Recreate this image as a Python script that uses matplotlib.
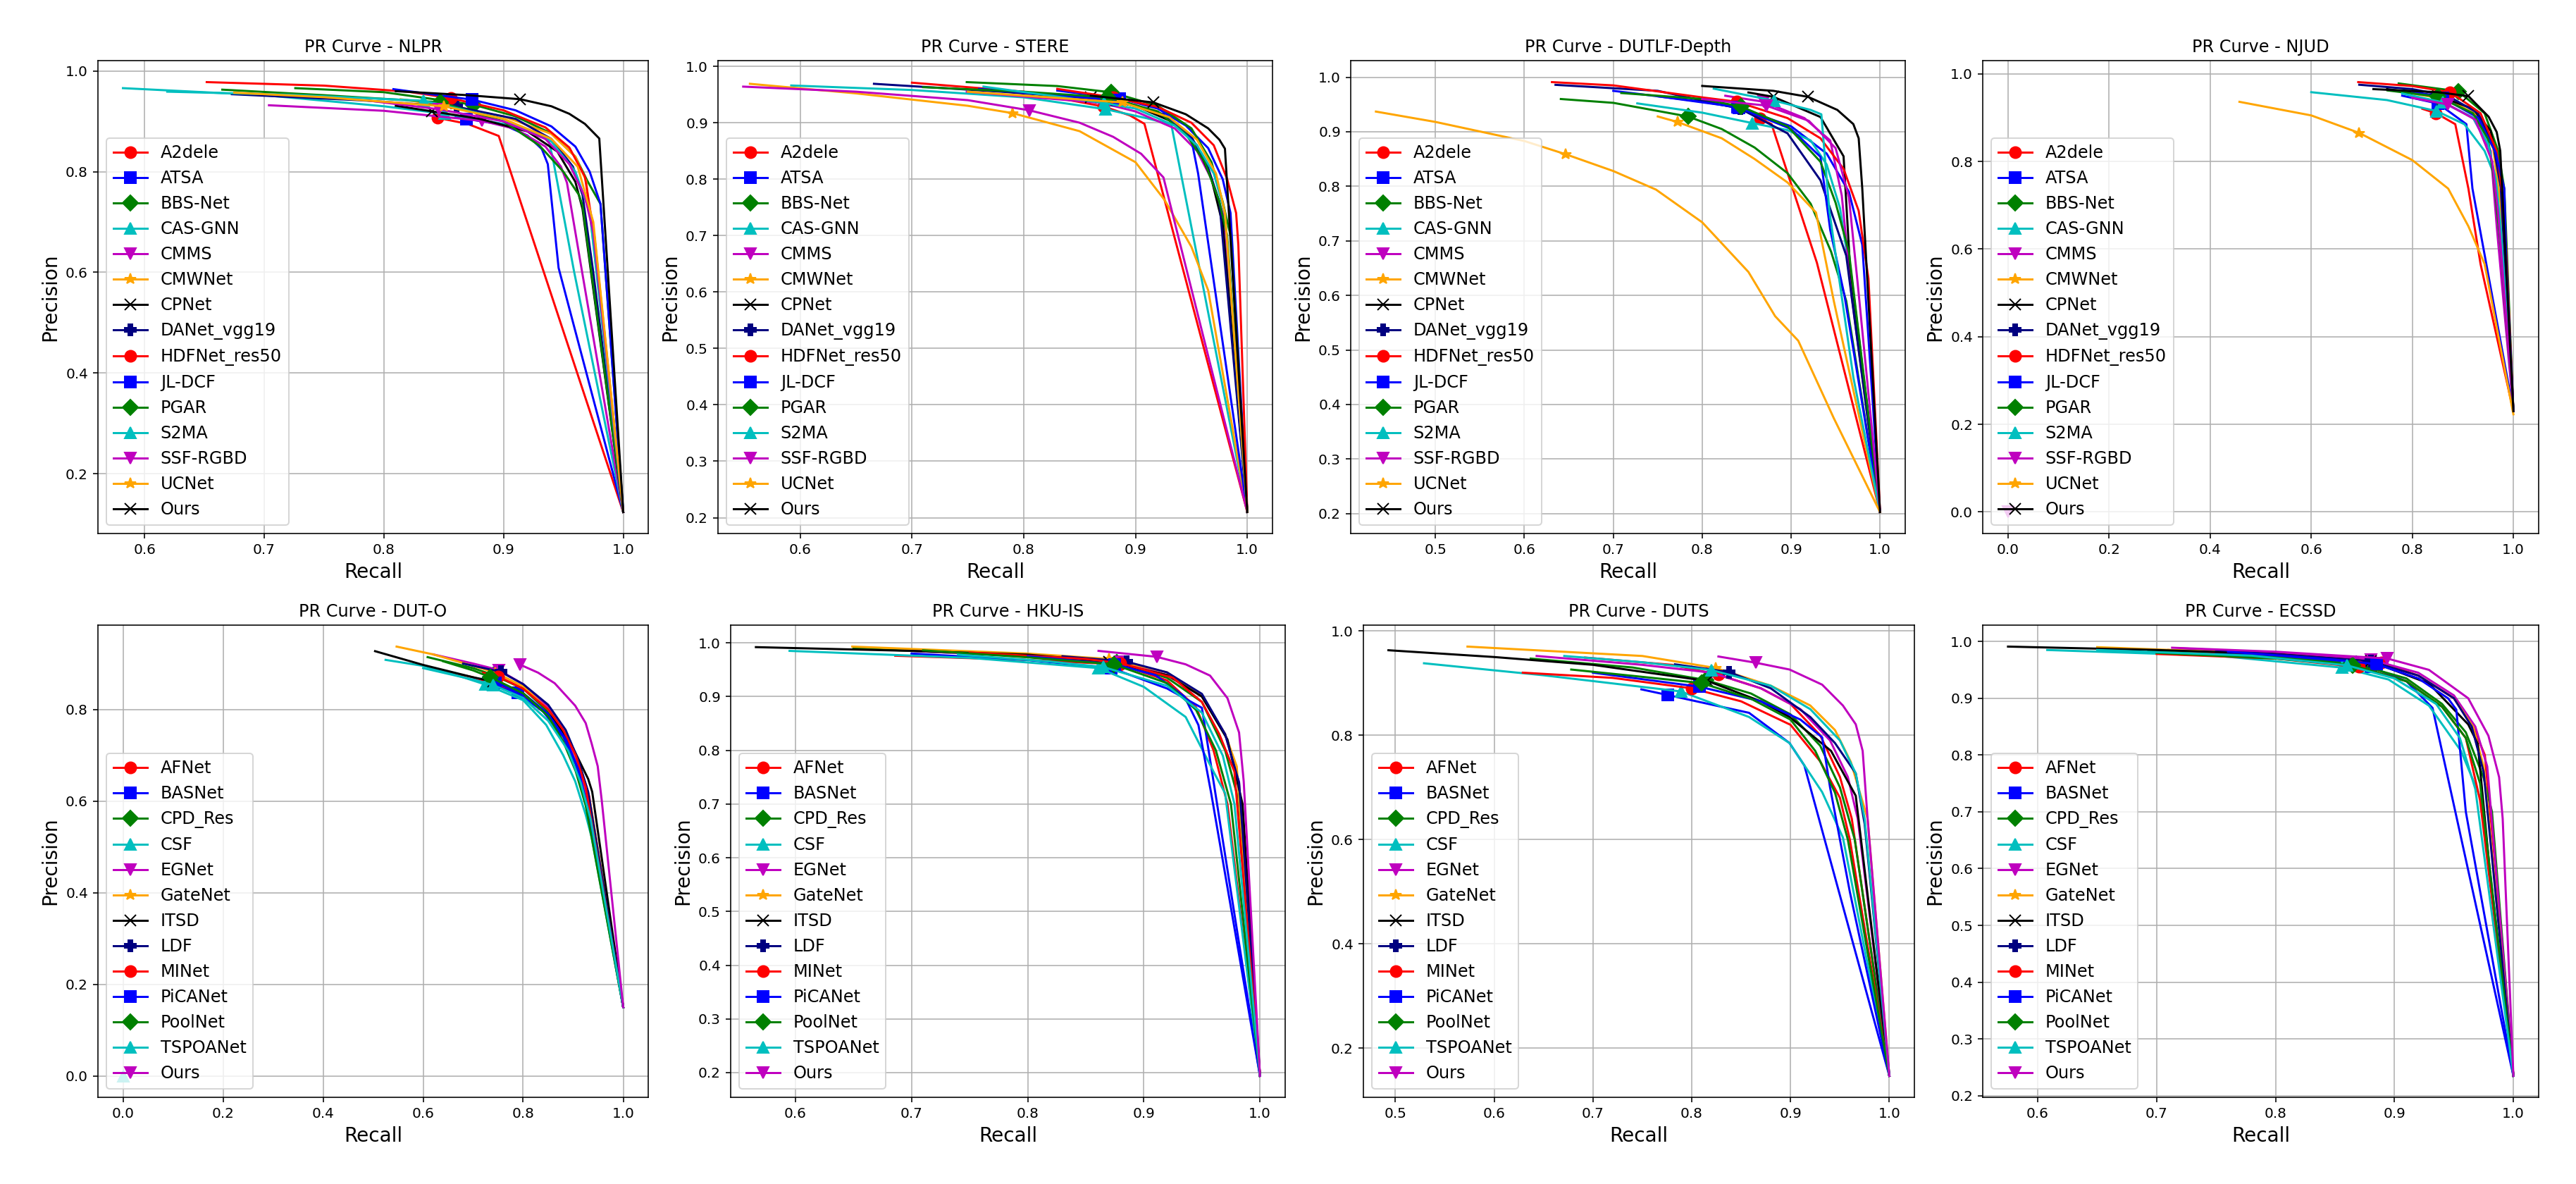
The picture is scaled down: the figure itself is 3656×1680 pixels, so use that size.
import matplotlib
matplotlib.use("Agg")
import matplotlib.pyplot as plt

# method names, in legend order
rgbd_methods = ["A2dele", "ATSA", "BBS-Net", "CAS-GNN", "CMMS", "CMWNet", "CPNet",
                "DANet_vgg19", "HDFNet_res50", "JL-DCF", "PGAR", "S2MA", "SSF-RGBD",
                "UCNet", "Ours"]
rgb_methods = ["AFNet", "BASNet", "CPD_Res", "CSF", "EGNet", "GateNet", "ITSD", "LDF",
               "MINet", "PiCANet", "PoolNet", "TSPOANet", "Ours"]

rgbd_styles = [("r", "o"), ("b", "s"), ("g", "D"), ("c", "^"), ("m", "v"), ("orange", "*"),
               ("k", "x"), ("navy", "P"), ("r", "o"), ("b", "s"), ("g", "D"), ("c", "^"),
               ("m", "v"), ("orange", "*"), ("k", "x")]
rgb_styles = [("r", "o"), ("b", "s"), ("g", "D"), ("c", "^"), ("m", "v"), ("orange", "*"),
              ("k", "x"), ("navy", "P"), ("r", "o"), ("b", "s"), ("g", "D"), ("c", "^"),
              ("m", "v")]

# each curve: (recall, precision, index of the marked point)
nlpr = {
    "A2dele": ([0.845, 0.87, 0.896, 1.0], [0.907, 0.895, 0.871, 0.124], 0),
    "ATSA": ([0.86, 0.869, 0.9, 0.92, 0.932, 0.937, 0.946, 1.0],
             [0.908, 0.905, 0.893, 0.872, 0.845, 0.815, 0.609, 0.124], 1),
    "BBS-Net": ([0.726, 0.8, 0.875, 0.91, 0.94, 0.96, 0.97, 0.981, 1.0],
                [0.966, 0.958, 0.933, 0.91, 0.876, 0.83, 0.782, 0.736, 0.124], 2),
    "CAS-GNN": ([0.582, 0.7, 0.8, 0.851, 0.9, 0.925, 0.937, 0.941, 0.959, 1.0],
                [0.966, 0.952, 0.93, 0.915, 0.895, 0.878, 0.868, 0.829, 0.601, 0.124], 3),
    "CMMS": ([0.704, 0.8, 0.882, 0.91, 0.935, 0.948, 0.953, 0.966, 1.0],
             [0.932, 0.921, 0.901, 0.885, 0.85, 0.81, 0.778, 0.596, 0.124], 2),
    "CMWNet": ([0.814, 0.846, 0.9, 0.94, 0.96, 0.969, 0.978, 1.0],
               [0.944, 0.933, 0.91, 0.875, 0.83, 0.782, 0.596, 0.124], 1),
    "CPNet": ([0.81, 0.84, 0.88, 0.92, 0.945, 0.96, 0.966, 1.0],
              [0.931, 0.92, 0.905, 0.88, 0.84, 0.78, 0.726, 0.124], 1),
    "DANet_vgg19": ([0.673, 0.78, 0.861, 0.91, 0.94, 0.958, 0.966, 0.975, 1.0],
                    [0.954, 0.942, 0.929, 0.905, 0.865, 0.81, 0.754, 0.6, 0.124], 2),
    "HDFNet_res50": ([0.652, 0.75, 0.82, 0.856, 0.9, 0.935, 0.955, 0.968, 0.976, 1.0],
                     [0.978, 0.971, 0.959, 0.946, 0.922, 0.888, 0.848, 0.79, 0.67, 0.124], 3),
    "JL-DCF": ([0.808, 0.874, 0.91, 0.94, 0.96, 0.972, 0.981, 1.0],
               [0.964, 0.943, 0.922, 0.89, 0.85, 0.8, 0.736, 0.124], 1),
    "PGAR": ([0.665, 0.75, 0.847, 0.9, 0.93, 0.95, 0.963, 0.966, 1.0],
             [0.963, 0.952, 0.938, 0.9, 0.852, 0.8, 0.754, 0.733, 0.124], 2),
    "S2MA": ([0.619, 0.72, 0.833, 0.9, 0.94, 0.96, 0.972, 1.0],
             [0.959, 0.953, 0.941, 0.905, 0.86, 0.8, 0.72, 0.124], 2),
    "SSF-RGBD": ([0.788, 0.846, 0.9, 0.935, 0.955, 0.968, 0.975, 1.0],
                 [0.941, 0.924, 0.9, 0.865, 0.815, 0.75, 0.68, 0.124], 1),
    "UCNet": ([0.675, 0.75, 0.85, 0.9, 0.94, 0.962, 0.975, 1.0],
              [0.957, 0.948, 0.93, 0.905, 0.865, 0.81, 0.7, 0.124], 2),
    "Ours": ([0.81, 0.87, 0.914, 0.94, 0.955, 0.968, 0.98, 1.0],
             [0.96, 0.952, 0.944, 0.93, 0.915, 0.895, 0.866, 0.124], 2),
}

stere = {
    "A2dele": ([0.7, 0.8, 0.871, 0.895, 0.908, 1.0], [0.971, 0.955, 0.929, 0.913, 0.898, 0.21], 2),
    "ATSA": ([0.83, 0.886, 0.92, 0.945, 0.965, 0.978, 0.985, 1.0],
             [0.957, 0.943, 0.925, 0.895, 0.855, 0.8, 0.74, 0.21], 1),
    "BBS-Net": ([0.749, 0.83, 0.878, 0.92, 0.95, 0.968, 0.978, 0.985, 1.0],
                [0.972, 0.965, 0.954, 0.93, 0.89, 0.83, 0.76, 0.7, 0.21], 2),
    "CAS-GNN": ([0.592, 0.7, 0.8, 0.873, 0.91, 0.932, 1.0],
                [0.966, 0.958, 0.945, 0.924, 0.908, 0.897, 0.21], 3),
    "CMMS": ([0.749, 0.87, 0.9, 0.935, 0.955, 0.968, 0.978, 1.0],
             [0.955, 0.935, 0.92, 0.89, 0.85, 0.8, 0.74, 0.21], 1),
    "CMWNet": ([0.555, 0.65, 0.75, 0.79, 0.85, 0.9, 0.926, 0.95, 0.965, 1.0],
               [0.969, 0.952, 0.93, 0.917, 0.885, 0.83, 0.763, 0.68, 0.603, 0.21], 3),
    "CPNet": ([0.786, 0.86, 0.9, 0.935, 0.955, 0.968, 0.978, 1.0],
              [0.955, 0.945, 0.93, 0.9, 0.86, 0.8, 0.72, 0.21], 1),
    "DANet_vgg19": ([0.666, 0.78, 0.88, 0.925, 0.95, 0.965, 0.975, 1.0],
                    [0.969, 0.955, 0.94, 0.915, 0.875, 0.82, 0.76, 0.21], 2),
    "HDFNet_res50": ([0.83, 0.88, 0.92, 0.95, 0.97, 0.982, 0.99, 0.992, 1.0],
                     [0.96, 0.945, 0.928, 0.9, 0.86, 0.8, 0.74, 0.683, 0.21], 1),
    "JL-DCF": ([0.76, 0.886, 0.93, 0.95, 0.956, 1.0], [0.96, 0.94, 0.91, 0.87, 0.81, 0.21], 1),
    "PGAR": ([0.71, 0.8, 0.875, 0.92, 0.945, 0.962, 0.975, 0.982, 1.0],
             [0.963, 0.955, 0.945, 0.92, 0.88, 0.83, 0.76, 0.7, 0.21], 2),
    "S2MA": ([0.764, 0.872, 0.9, 0.935, 0.955, 0.97, 0.98, 1.0],
             [0.964, 0.935, 0.925, 0.895, 0.86, 0.81, 0.74, 0.21], 1),
    "SSF-RGBD": ([0.549, 0.65, 0.75, 0.805, 0.85, 0.88, 0.905, 0.925, 1.0],
                 [0.964, 0.955, 0.94, 0.922, 0.9, 0.875, 0.845, 0.803, 0.21], 3),
    "UCNet": ([0.75, 0.888, 0.93, 0.955, 0.972, 0.98, 1.0],
              [0.955, 0.936, 0.91, 0.87, 0.81, 0.74, 0.21], 1),
    "Ours": ([0.86, 0.916, 0.945, 0.965, 0.975, 0.98, 1.0],
             [0.948, 0.936, 0.915, 0.89, 0.87, 0.854, 0.21], 1),
}

dutlf = {
    "A2dele": ([0.865, 0.878, 0.929, 1.0], [0.924, 0.914, 0.66, 0.203], 0),
    "ATSA": ([0.7, 0.8, 0.841, 0.9, 0.94, 0.965, 0.98, 1.0],
             [0.975, 0.955, 0.944, 0.91, 0.86, 0.79, 0.693, 0.203], 2),
    "BBS-Net": ([0.641, 0.7, 0.784, 0.822, 0.859, 0.896, 0.922, 0.945, 0.962, 1.0],
                [0.96, 0.953, 0.928, 0.905, 0.871, 0.824, 0.768, 0.68, 0.59, 0.203], 2),
    "CAS-GNN": ([0.727, 0.8, 0.856, 0.896, 0.922, 0.94, 0.955, 0.97, 1.0],
                [0.952, 0.935, 0.916, 0.903, 0.884, 0.84, 0.76, 0.6, 0.203], 2),
    "CMMS": ([0.826, 0.869, 0.915, 0.944, 0.957, 0.968, 1.0],
             [0.966, 0.955, 0.925, 0.884, 0.783, 0.6, 0.203], 1),
    "CMWNet": ([0.75, 0.772, 0.822, 0.859, 0.896, 0.928, 0.948, 1.0],
               [0.928, 0.918, 0.888, 0.85, 0.807, 0.752, 0.59, 0.203], 1),
    "CPNet": ([0.852, 0.88, 0.933, 0.959, 0.966, 1.0], [0.972, 0.964, 0.927, 0.855, 0.659, 0.203], 1),
    "DANet_vgg19": ([0.635, 0.75, 0.843, 0.896, 0.933, 0.962, 1.0],
                    [0.986, 0.975, 0.942, 0.897, 0.811, 0.673, 0.203], 2),
    "HDFNet_res50": ([0.631, 0.7, 0.8, 0.839, 0.896, 0.933, 0.959, 0.976, 0.987, 1.0],
                     [0.991, 0.985, 0.963, 0.955, 0.925, 0.888, 0.832, 0.755, 0.631, 0.203], 3),
    "JL-DCF": ([0.75, 0.84, 0.9, 0.933, 0.944, 0.96, 1.0],
               [0.965, 0.945, 0.905, 0.854, 0.72, 0.6, 0.203], 1),
    "PGAR": ([0.709, 0.8, 0.844, 0.896, 0.933, 0.95, 0.965, 1.0],
             [0.971, 0.96, 0.946, 0.91, 0.845, 0.77, 0.68, 0.203], 2),
    "S2MA": ([0.813, 0.881, 0.922, 0.934, 0.943, 0.97, 1.0],
             [0.979, 0.957, 0.94, 0.932, 0.755, 0.45, 0.203], 1),
    "SSF-RGBD": ([0.8, 0.872, 0.92, 0.95, 0.965, 0.975, 1.0],
                 [0.96, 0.948, 0.92, 0.87, 0.78, 0.62, 0.203], 1),
    "UCNet": ([0.433, 0.5, 0.6, 0.646, 0.7, 0.748, 0.8, 0.852, 0.882, 0.908, 0.948, 1.0],
              [0.937, 0.918, 0.883, 0.859, 0.828, 0.794, 0.734, 0.643, 0.562, 0.517, 0.375, 0.203], 3),
    "Ours": ([0.8, 0.88, 0.919, 0.952, 0.97, 0.976, 0.98, 1.0],
             [0.984, 0.975, 0.964, 0.94, 0.914, 0.888, 0.797, 0.203], 2),
}

njud = {
    "A2dele": ([0.82, 0.847, 0.885, 0.911, 0.935, 1.0], [0.92, 0.91, 0.885, 0.738, 0.566, 0.23], 1),
    "ATSA": ([0.78, 0.851, 0.907, 0.919, 1.0], [0.95, 0.932, 0.885, 0.738, 0.23], 1),
    "BBS-Net": ([0.773, 0.891, 0.943, 0.97, 0.982, 1.0], [0.978, 0.96, 0.91, 0.824, 0.738, 0.23], 1),
    "CAS-GNN": ([0.6, 0.75, 0.848, 0.903, 0.943, 0.967, 1.0],
                [0.958, 0.94, 0.915, 0.885, 0.824, 0.755, 0.23], 2),
    "CMMS": ([0.797, 0.86, 0.92, 0.955, 0.967, 1.0], [0.949, 0.935, 0.9, 0.824, 0.652, 0.23], 1),
    "CMWNet": ([0.8, 0.871, 0.93, 0.96, 0.975, 1.0], [0.955, 0.941, 0.905, 0.83, 0.7, 0.23], 1),
    "CPNet": ([0.75, 0.85, 0.92, 0.955, 0.972, 0.98, 1.0], [0.965, 0.95, 0.92, 0.87, 0.78, 0.7, 0.23], 1),
    "DANet_vgg19": ([0.695, 0.8, 0.87, 0.93, 0.96, 0.975, 1.0],
                    [0.975, 0.965, 0.95, 0.91, 0.84, 0.74, 0.23], 2),
    "HDFNet_res50": ([0.693, 0.8, 0.875, 0.935, 0.967, 0.982, 1.0],
                     [0.981, 0.972, 0.958, 0.91, 0.824, 0.695, 0.23], 2),
    "JL-DCF": ([0.8, 0.86, 0.93, 0.965, 0.982, 0.986, 1.0], [0.96, 0.945, 0.9, 0.82, 0.738, 0.566, 0.23], 1),
    "PGAR": ([0.751, 0.85, 0.92, 0.95, 0.962, 0.975, 1.0], [0.962, 0.948, 0.91, 0.85, 0.755, 0.6, 0.23], 1),
    "S2MA": ([0.78, 0.86, 0.92, 0.95, 0.965, 0.975, 1.0], [0.955, 0.935, 0.9, 0.84, 0.76, 0.65, 0.23], 1),
    "SSF-RGBD": ([0.8, 0.87, 0.925, 0.958, 0.97, 1.0], [0.945, 0.93, 0.895, 0.8, 0.68, 0.23], 1),
    "UCNet": ([0.458, 0.6, 0.695, 0.8, 0.871, 0.911, 0.943, 1.0],
              [0.936, 0.905, 0.865, 0.803, 0.738, 0.652, 0.566, 0.223], 2),
    "Ours": ([0.723, 0.85, 0.911, 0.951, 0.967, 0.974, 1.0],
             [0.965, 0.958, 0.949, 0.902, 0.867, 0.824, 0.23], 2),
}

dut_o = {
    "AFNet": ([0.613, 0.7, 0.74, 0.8, 0.85, 0.89, 0.915, 0.932, 1.0],
              [0.89, 0.87, 0.857, 0.83, 0.79, 0.73, 0.67, 0.61, 0.15], 2),
    "BASNet": ([0.7, 0.789, 0.84, 0.88, 0.905, 0.925, 1.0], [0.865, 0.836, 0.795, 0.74, 0.68, 0.6, 0.15], 1),
    "CPD_Res": ([0.609, 0.7, 0.74, 0.8, 0.85, 0.885, 0.91, 0.93, 1.0],
                [0.914, 0.89, 0.875, 0.845, 0.795, 0.735, 0.67, 0.6, 0.15], 2),
    "CSF": ([0.525, 0.6, 0.68, 0.725, 0.8, 0.846, 0.88, 0.904, 0.925, 0.937, 1.0],
            [0.908, 0.895, 0.87, 0.854, 0.82, 0.766, 0.7, 0.643, 0.57, 0.52, 0.15], 3),
    "EGNet": ([0.62, 0.7, 0.751, 0.8, 0.85, 0.885, 0.91, 0.93, 1.0],
              [0.92, 0.9, 0.886, 0.855, 0.805, 0.745, 0.68, 0.6, 0.15], 2),
    "GateNet": ([0.547, 0.62, 0.7, 0.745, 0.8, 0.85, 0.89, 0.915, 0.935, 1.0],
                [0.937, 0.92, 0.895, 0.88, 0.85, 0.8, 0.74, 0.67, 0.59, 0.15], 3),
    "ITSD": ([0.504, 0.6, 0.7, 0.74, 0.8, 0.86, 0.9, 0.93, 0.938, 1.0],
             [0.927, 0.897, 0.87, 0.861, 0.835, 0.78, 0.715, 0.648, 0.62, 0.15], 3),
    "LDF": ([0.68, 0.755, 0.8, 0.85, 0.885, 0.91, 0.93, 1.0], [0.9, 0.882, 0.855, 0.81, 0.755, 0.69, 0.62, 0.15], 1),
    "MINet": ([0.72, 0.75, 0.8, 0.85, 0.88, 0.905, 0.925, 1.0], [0.88, 0.872, 0.845, 0.8, 0.755, 0.7, 0.63, 0.15], 1),
    "PiCANet": ([0.72, 0.745, 0.8, 0.85, 0.885, 0.91, 0.93, 1.0],
                [0.87, 0.858, 0.835, 0.79, 0.735, 0.67, 0.58, 0.15], 1),
    "PoolNet": ([0.64, 0.7, 0.735, 0.8, 0.85, 0.88, 0.905, 0.925, 1.0],
                [0.905, 0.885, 0.87, 0.835, 0.785, 0.73, 0.665, 0.59, 0.15], 2),
    "TSPOANet": ([0.6, 0.7, 0.74, 0.8, 0.85, 0.89, 0.915, 0.935, 1.0],
                 [0.89, 0.865, 0.853, 0.825, 0.775, 0.71, 0.64, 0.56, 0.15], 2),
    "Ours": ([0.793, 0.83, 0.863, 0.904, 0.925, 0.937, 0.949, 0.957, 1.0],
             [0.898, 0.88, 0.857, 0.808, 0.77, 0.725, 0.676, 0.602, 0.15], 0),
}

hku_is = {
    "AFNet": ([0.686, 0.8, 0.879, 0.92, 0.945, 0.96, 0.972, 1.0],
              [0.976, 0.968, 0.96, 0.93, 0.88, 0.8, 0.7, 0.194], 2),
    "BASNet": ([0.7, 0.8, 0.872, 0.92, 0.95, 1.0], [0.98, 0.968, 0.953, 0.915, 0.879, 0.194], 2),
    "CPD_Res": ([0.65, 0.8, 0.877, 0.92, 0.95, 0.97, 0.98, 1.0],
                [0.99, 0.975, 0.963, 0.935, 0.89, 0.8, 0.72, 0.194], 2),
    "CSF": ([0.595, 0.75, 0.861, 0.9, 0.936, 0.961, 0.97, 1.0],
            [0.985, 0.972, 0.953, 0.918, 0.862, 0.756, 0.72, 0.194], 2),
    "EGNet": ([0.7, 0.8, 0.88, 0.92, 0.95, 0.97, 0.982, 1.0],
              [0.985, 0.975, 0.965, 0.94, 0.9, 0.83, 0.74, 0.194], 2),
    "GateNet": ([0.649, 0.8, 0.87, 0.92, 0.95, 0.97, 0.98, 1.0],
                [0.993, 0.98, 0.97, 0.945, 0.9, 0.83, 0.77, 0.194], 2),
    "ITSD": ([0.566, 0.7, 0.8, 0.87, 0.92, 0.95, 0.972, 0.985, 1.0],
             [0.992, 0.985, 0.978, 0.965, 0.94, 0.9, 0.82, 0.7, 0.194], 3),
    "LDF": ([0.83, 0.885, 0.92, 0.95, 0.97, 0.982, 1.0], [0.975, 0.965, 0.945, 0.905, 0.83, 0.74, 0.194], 1),
    "MINet": ([0.75, 0.85, 0.88, 0.925, 0.95, 0.965, 0.978, 1.0],
              [0.982, 0.97, 0.962, 0.935, 0.89, 0.83, 0.76, 0.194], 2),
    "PiCANet": ([0.8, 0.875, 0.91, 0.935, 0.947, 0.958, 1.0], [0.975, 0.96, 0.94, 0.9, 0.847, 0.72, 0.194], 1),
    "PoolNet": ([0.71, 0.8, 0.874, 0.92, 0.945, 0.962, 0.975, 1.0],
                [0.986, 0.973, 0.96, 0.925, 0.875, 0.8, 0.7, 0.194], 2),
    "TSPOANet": ([0.74, 0.82, 0.865, 0.92, 0.95, 0.968, 0.978, 1.0],
                 [0.978, 0.965, 0.955, 0.92, 0.87, 0.79, 0.7, 0.194], 2),
    "Ours": ([0.861, 0.911, 0.936, 0.957, 0.972, 0.982, 0.986, 1.0],
             [0.985, 0.974, 0.96, 0.939, 0.897, 0.833, 0.742, 0.194], 1),
}

duts = {
    "AFNet": ([0.692, 0.78, 0.827, 0.87, 0.9, 0.93, 0.95, 0.962, 1.0],
              [0.949, 0.935, 0.916, 0.89, 0.86, 0.8, 0.72, 0.64, 0.147], 2),
    "BASNet": ([0.749, 0.776, 0.858, 0.899, 0.914, 1.0], [0.888, 0.877, 0.843, 0.785, 0.742, 0.147], 1),
    "CPD_Res": ([0.637, 0.74, 0.814, 0.86, 0.9, 0.93, 0.95, 0.965, 1.0],
                [0.947, 0.93, 0.906, 0.88, 0.84, 0.78, 0.7, 0.6, 0.147], 2),
    "CSF": ([0.529, 0.65, 0.789, 0.858, 0.899, 0.932, 0.953, 1.0],
            [0.938, 0.915, 0.884, 0.835, 0.785, 0.691, 0.604, 0.147], 2),
    "EGNet": ([0.643, 0.75, 0.82, 0.87, 0.91, 0.94, 0.958, 0.968, 1.0],
              [0.952, 0.935, 0.92, 0.89, 0.85, 0.79, 0.72, 0.64, 0.147], 2),
    "GateNet": ([0.573, 0.75, 0.824, 0.88, 0.92, 0.945, 0.961, 0.978, 1.0],
                [0.97, 0.952, 0.929, 0.895, 0.857, 0.81, 0.749, 0.64, 0.147], 2),
    "ITSD": ([0.493, 0.6, 0.7, 0.816, 0.87, 0.899, 0.941, 0.966, 1.0],
             [0.963, 0.95, 0.935, 0.904, 0.865, 0.835, 0.77, 0.684, 0.147], 3),
    "LDF": ([0.783, 0.838, 0.88, 0.92, 0.945, 0.966, 0.975, 1.0],
            [0.936, 0.921, 0.89, 0.835, 0.785, 0.727, 0.63, 0.147], 1),
    "MINet": ([0.629, 0.72, 0.8, 0.85, 0.9, 0.93, 0.95, 0.96, 1.0],
              [0.92, 0.91, 0.89, 0.865, 0.82, 0.75, 0.68, 0.6, 0.147], 2),
    "PiCANet": ([0.7, 0.808, 0.87, 0.91, 0.932, 0.94, 0.96, 1.0],
                [0.92, 0.893, 0.865, 0.83, 0.796, 0.7, 0.5, 0.147], 1),
    "PoolNet": ([0.678, 0.75, 0.81, 0.86, 0.9, 0.925, 0.945, 0.958, 1.0],
                [0.926, 0.912, 0.9, 0.87, 0.83, 0.77, 0.69, 0.6, 0.147], 2),
    "TSPOANet": ([0.671, 0.75, 0.82, 0.88, 0.92, 0.95, 0.966, 0.975, 1.0],
                 [0.952, 0.94, 0.925, 0.895, 0.85, 0.79, 0.727, 0.64, 0.147], 2),
    "Ours": ([0.827, 0.865, 0.899, 0.932, 0.953, 0.966, 0.973, 0.978, 1.0],
             [0.951, 0.939, 0.926, 0.897, 0.857, 0.821, 0.77, 0.64, 0.147], 1),
}

ecssd = {
    "AFNet": ([0.71, 0.8, 0.889, 0.92, 0.95, 0.965, 0.976, 0.985, 1.0],
              [0.985, 0.975, 0.963, 0.94, 0.9, 0.855, 0.8, 0.6, 0.235], 2),
    "BASNet": ([0.75, 0.85, 0.88, 0.91, 0.932, 1.0], [0.98, 0.965, 0.955, 0.93, 0.883, 0.235], 2),
    "CPD_Res": ([0.693, 0.8, 0.868, 0.91, 0.94, 0.96, 0.975, 0.982, 1.0],
                [0.983, 0.972, 0.96, 0.935, 0.89, 0.84, 0.76, 0.7, 0.235], 2),
    "CSF": ([0.608, 0.75, 0.856, 0.895, 0.929, 0.956, 0.973, 1.0],
            [0.985, 0.975, 0.954, 0.933, 0.887, 0.807, 0.721, 0.235], 2),
    "EGNet": ([0.72, 0.82, 0.88, 0.92, 0.95, 0.968, 0.978, 1.0],
              [0.988, 0.978, 0.968, 0.945, 0.905, 0.85, 0.78, 0.235], 2),
    "GateNet": ([0.65, 0.8, 0.88, 0.92, 0.95, 0.966, 0.975, 1.0],
                [0.99, 0.978, 0.965, 0.94, 0.9, 0.85, 0.78, 0.235], 2),
    "ITSD": ([0.575, 0.7, 0.8, 0.88, 0.929, 0.962, 0.97, 0.98, 1.0],
             [0.991, 0.985, 0.978, 0.965, 0.926, 0.854, 0.82, 0.6, 0.235], 3),
    "LDF": ([0.75, 0.85, 0.88, 0.92, 0.95, 0.965, 0.975, 1.0],
            [0.985, 0.97, 0.965, 0.94, 0.9, 0.85, 0.77, 0.235], 2),
    "MINet": ([0.7, 0.8, 0.87, 0.91, 0.94, 0.96, 0.972, 1.0],
              [0.978, 0.97, 0.955, 0.93, 0.885, 0.83, 0.72, 0.235], 2),
    "PiCANet": ([0.76, 0.85, 0.885, 0.92, 0.945, 0.952, 0.96, 1.0],
                [0.982, 0.968, 0.96, 0.935, 0.9, 0.88, 0.7, 0.235], 2),
    "PoolNet": ([0.7, 0.8, 0.865, 0.91, 0.94, 0.96, 0.972, 1.0],
                [0.98, 0.97, 0.958, 0.93, 0.885, 0.83, 0.75, 0.235], 2),
    "TSPOANet": ([0.65, 0.78, 0.86, 0.9, 0.935, 0.955, 0.968, 1.0],
                 [0.985, 0.975, 0.958, 0.935, 0.89, 0.83, 0.74, 0.235], 2),
    "Ours": ([0.713, 0.8, 0.894, 0.929, 0.962, 0.979, 0.988, 0.991, 1.0],
             [0.989, 0.982, 0.97, 0.95, 0.9, 0.834, 0.761, 0.688, 0.235], 2),
}

# lone marked points sitting at the origin
stray_points = {"NJUD": ("m", "v"), "DUT-O": ("c", "^")}

panels = [("NLPR", nlpr, rgbd_methods, rgbd_styles),
          ("STERE", stere, rgbd_methods, rgbd_styles),
          ("DUTLF-Depth", dutlf, rgbd_methods, rgbd_styles),
          ("NJUD", njud, rgbd_methods, rgbd_styles),
          ("DUT-O", dut_o, rgb_methods, rgb_styles),
          ("HKU-IS", hku_is, rgb_methods, rgb_styles),
          ("DUTS", duts, rgb_methods, rgb_styles),
          ("ECSSD", ecssd, rgb_methods, rgb_styles)]

W, H = 3656, 1680
# axes boxes in pixels: left, right, top, bottom
boxes = [(139, 920, 86, 757), (1019, 1806, 86, 757), (1917, 2704, 86, 757), (2814, 3603, 86, 757),
         (139, 920, 887, 1557), (1037, 1824, 887, 1557), (1935, 2717, 887, 1557), (2814, 3603, 887, 1557)]

fig = plt.figure(figsize=(W / 144, H / 144), dpi=144)

for (name, data, methods, styles), (l, r, t, b) in zip(panels, boxes):
    ax = fig.add_axes([l / W, 1 - b / H, (r - l) / W, (b - t) / H])
    if name in stray_points:
        c, m = stray_points[name]
        ax.plot([0.0], [0.0], color=c, marker=m, markersize=8, linestyle="none")
    for meth, (c, m) in zip(methods, styles):
        rec, prec, k = data[meth]
        ax.plot(rec, prec, color=c, marker=m, markevery=[k], markersize=8,
                linewidth=1.5, label=meth)
    ax.grid(True)
    ax.set_title("PR Curve - " + name, fontsize=12)
    ax.set_xlabel("Recall", fontsize=14)
    ax.set_ylabel("Precision", fontsize=14)
    ax.tick_params(labelsize=10)
    ax.legend(loc="lower left", fontsize=12)

fig.savefig("out.png", dpi=144)
